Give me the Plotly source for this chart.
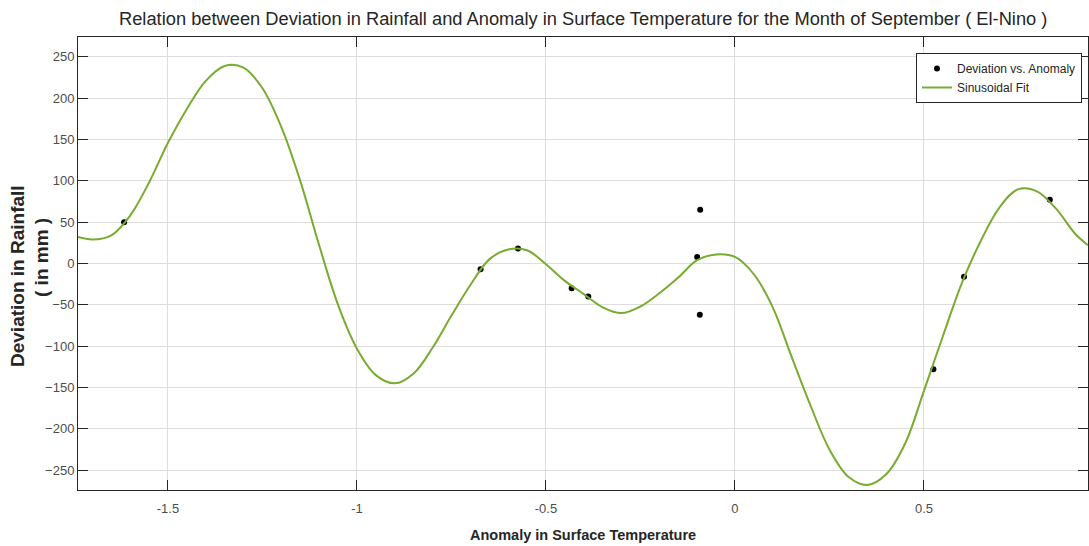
import plotly.graph_objects as go

# Observed data points (Anomaly in Surface Temperature vs Deviation in Rainfall)
anomaly = [-1.616, -0.673, -0.574, -0.432, -0.388, -0.100, -0.092, -0.093, 0.525, 0.606, 0.833]
deviation = [50, -7, 18, -30, -40, 8, 65, -62, -128, -16, 77]

# Sinusoidal fit curve at regular steps
fit_x = [-1.738, -1.70, -1.65, -1.60, -1.55, -1.50, -1.45, -1.40, -1.35, -1.30,
         -1.25, -1.20, -1.15, -1.10, -1.05, -1.00, -0.95, -0.90, -0.85, -0.80,
         -0.75, -0.70, -0.65, -0.60, -0.55, -0.50, -0.45, -0.40, -0.35, -0.30,
         -0.25, -0.20, -0.15, -0.10, -0.05, 0.00, 0.05, 0.10, 0.15, 0.20,
         0.25, 0.30, 0.35, 0.40, 0.45, 0.50, 0.55, 0.60, 0.65, 0.70,
         0.75, 0.80, 0.85, 0.90, 0.934]
fit_y = [32, 29, 34, 58, 98, 146, 187, 221, 239, 237,
         212, 165, 100, 22, -50, -103, -135, -145, -133, -102,
         -63, -26, 5, 17, 16, -1, -21, -37, -53, -60,
         -52, -36, -17, 4, 11, 8, -13, -53, -113, -172,
         -225, -258, -268, -255, -218, -154, -88, -24, 27, 68,
         90, 87, 66, 36, 22]

x_ticks = [-1.5, -1, -0.5, 0, 0.5]
x_tick_labels = ["-1.5", "-1", "-0.5", "0", "0.5"]
y_ticks = [-250, -200, -150, -100, -50, 0, 50, 100, 150, 200, 250]

FONT = "Liberation Sans, Arial, Helvetica, sans-serif"

fig = go.Figure()
fig.add_trace(go.Scatter(
    x=anomaly, y=deviation, mode="markers", name="Deviation vs. Anomaly",
    marker=dict(color="black", size=6),
))
fig.add_trace(go.Scatter(
    x=fit_x, y=fit_y, mode="lines", name="Sinusoidal Fit",
    line=dict(color="#77AC30", width=2, shape="spline", smoothing=1.0),
))

axis_common = dict(
    showline=True, linecolor="#262626", linewidth=1, mirror="ticks",
    ticks="inside", ticklen=10, tickcolor="#262626",
    showgrid=True, gridcolor="#dedede", gridwidth=1, zeroline=False,
    tickfont=dict(family=FONT, size=13, color="#4d4d4d"),
)

fig.update_layout(
    width=1089, height=546,
    margin=dict(l=78, r=1, t=37, b=56),
    paper_bgcolor="white", plot_bgcolor="white",
    showlegend=True,
    legend=dict(
        x=(1082 - 78) / 1010, y=(490 - 53) / 453, xanchor="right", yanchor="top",
        bordercolor="#262626", borderwidth=1, bgcolor="white",
        font=dict(family=FONT, size=12, color="#262626"),
        itemwidth=30, tracegroupgap=0,
    ),
    xaxis=dict(range=[-1.738, 0.934], tickvals=x_ticks, ticktext=x_tick_labels,
               ticklabelstandoff=6, **axis_common),
    yaxis=dict(range=[-274, 274], tickvals=y_ticks, **axis_common),
    annotations=[
        dict(text="Relation between Deviation in Rainfall and Anomaly in Surface Temperature for the Month of September ( El-Nino )",
             xref="paper", yref="paper", x=0.5, y=(490 - 18) / 453,
             xanchor="center", yanchor="middle", showarrow=False,
             font=dict(family=FONT, size=18.3, color="#262626")),
        dict(text="<b>Anomaly in Surface Temperature</b>",
             xref="paper", yref="paper", x=0.5, y=-(535 - 490) / 453,
             xanchor="center", yanchor="middle", showarrow=False,
             font=dict(family=FONT, size=14.5, color="#262626")),
        dict(text="<b>Deviation in Rainfall</b>",
             xref="paper", yref="paper", x=-(78 - 17) / 1010, y=(490 - 276) / 453,
             xanchor="center", yanchor="middle", showarrow=False, textangle=-90,
             font=dict(family=FONT, size=19, color="#262626")),
        dict(text="<b>( in mm )</b>",
             xref="paper", yref="paper", x=-(78 - 41) / 1010, y=(490 - 258) / 453,
             xanchor="center", yanchor="middle", showarrow=False, textangle=-90,
             font=dict(family=FONT, size=19, color="#262626")),
    ],
)

fig.write_html("out.html")
